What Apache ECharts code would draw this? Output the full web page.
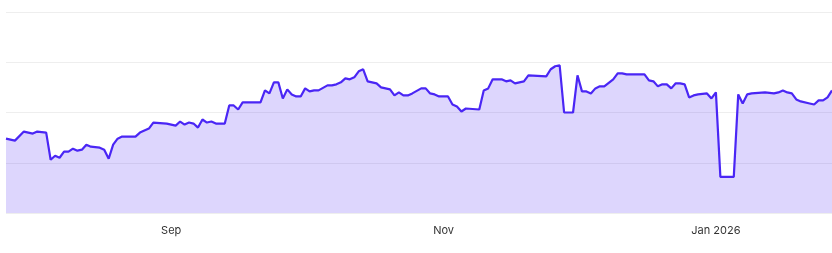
<!DOCTYPE html>
<html>
<head>
<meta charset="utf-8">
<style>
html,body{margin:0;padding:0;background:#fff;}
#chart{width:832px;height:253px;}
</style>
<script src="https://cdn.jsdelivr.net/npm/echarts@6/dist/echarts.min.js"></script>
</head>
<body>
<div id="chart"></div>
<script>
const dates = [
  '2025-07-26','2025-07-28','2025-07-30','2025-08-01','2025-08-02','2025-08-04','2025-08-05','2025-08-06','2025-08-07','2025-08-08',
  '2025-08-09','2025-08-10','2025-08-11','2025-08-12','2025-08-13','2025-08-14','2025-08-16','2025-08-17','2025-08-18','2025-08-19',
  '2025-08-20','2025-08-21','2025-08-24','2025-08-25','2025-08-26','2025-08-27','2025-08-28','2025-08-31','2025-09-02','2025-09-03',
  '2025-09-04','2025-09-05','2025-09-06','2025-09-07','2025-09-08','2025-09-09','2025-09-10','2025-09-11','2025-09-13','2025-09-14',
  '2025-09-15','2025-09-16','2025-09-17','2025-09-21','2025-09-22','2025-09-23','2025-09-24','2025-09-25','2025-09-26','2025-09-27',
  '2025-09-28','2025-09-29','2025-09-30','2025-10-01','2025-10-02','2025-10-03','2025-10-04','2025-10-06','2025-10-07','2025-10-08',
  '2025-10-09','2025-10-10','2025-10-11','2025-10-12','2025-10-13','2025-10-14','2025-10-15','2025-10-17','2025-10-18','2025-10-20',
  '2025-10-21','2025-10-22','2025-10-23','2025-10-24','2025-10-25','2025-10-27','2025-10-28','2025-10-29','2025-10-30','2025-10-31',
  '2025-11-02','2025-11-03','2025-11-04','2025-11-05','2025-11-06','2025-11-09','2025-11-10','2025-11-11','2025-11-12','2025-11-14',
  '2025-11-15','2025-11-16','2025-11-17','2025-11-18','2025-11-19','2025-11-20','2025-11-24','2025-11-25','2025-11-26','2025-11-27',
  '2025-11-28','2025-11-30','2025-12-01','2025-12-02','2025-12-03','2025-12-04','2025-12-05','2025-12-06','2025-12-07','2025-12-09',
  '2025-12-10','2025-12-11','2025-12-12','2025-12-16','2025-12-17','2025-12-18','2025-12-19','2025-12-20','2025-12-21','2025-12-22',
  '2025-12-23','2025-12-24','2025-12-25','2025-12-26','2025-12-27','2025-12-28','2025-12-30','2025-12-31','2026-01-01','2026-01-02',
  '2026-01-05','2026-01-06','2026-01-07','2026-01-08','2026-01-09','2026-01-12','2026-01-14','2026-01-15','2026-01-16','2026-01-17',
  '2026-01-18','2026-01-19','2026-01-20','2026-01-22','2026-01-23','2026-01-24','2026-01-25','2026-01-26','2026-01-27'
];
const values = [
  74,72,81,79,81,80,53,57,55,61,
  61,64,62,63,68,66,65,63,54,68,
  74,76,76,80,82,84,90,89,87,91,
  88,90,89,85,93,90,91,89,89,107,
  107,103,110,110,122,119,130,130,114,123,
  118,116,116,124,121,122,122,127,127,128,
  130,134,133,135,141,143,131,129,125,123,
  117,120,117,117,119,124,124,119,118,116,
  116,108,106,101,104,103,122,124,133,133,
  131,132,129,130,131,137,136,143,146,147,
  100,100,137,121,121,119,124,126,126,133,
  139,139,138,138,132,131,126,128,128,124,
  129,129,128,115,117,118,119,114,120,36,
  36,118,109,118,119,120,119,120,122,120,
  119,113,111,109,108,112,112,115,122
];
const tickDates = ['2025-09-01','2025-11-01','2026-01-01'];
const monthNames = ['Jan','Feb','Mar','Apr','May','Jun','Jul','Aug','Sep','Oct','Nov','Dec'];

function parseLocal(s){const p=s.split('-').map(Number);return new Date(p[0],p[1]-1,p[2]).getTime();}

const chart = echarts.init(document.getElementById('chart'), null, {renderer:'canvas'});
chart.setOption({
  animation:false,
  grid:{left:6,right:0,top:12,bottom:40,containLabel:false},
  xAxis:{
    type:'value',
    min:parseLocal(dates[0]),
    max:parseLocal(dates[dates.length-1]),
    axisLine:{show:false},
    axisTick:{show:false},
    splitLine:{show:false},
    axisLabel:{
      customValues:tickDates.map(parseLocal),
      color:'#333333',
      fontFamily:'Inter',
      fontSize:11,
      margin:12,
      formatter:function(v){
        const d=new Date(v);
        const m=d.getMonth();
        return m===0 ? monthNames[m]+' '+d.getFullYear() : monthNames[m];
      }
    }
  },
  yAxis:{
    type:'value',
    min:0,max:200,interval:50,
    axisLine:{show:false},
    axisTick:{show:false},
    axisLabel:{show:false},
    splitLine:{lineStyle:{color:'#eeeeee',width:1}}
  },
  series:[{
    type:'line',
    data:dates.map((d,i)=>[parseLocal(d),values[i]]),
    showSymbol:false,
    lineStyle:{color:'#4a26f5',width:2.2},
    itemStyle:{color:'#4a26f5'},
    areaStyle:{color:'rgba(74,38,245,0.27)'}
  }]
});
</script>
</body>
</html>
